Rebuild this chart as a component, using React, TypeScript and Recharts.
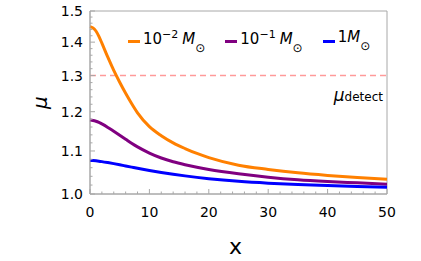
import React from 'react';
import { LineChart, Line, XAxis, YAxis, ReferenceLine, ReferenceArea } from 'recharts';

/* ---------- DATA ---------- */
const xValues = [0, 0.5, 1, 1.5, 2, 3, 4, 5, 6, 7, 8, 10, 12, 14, 16, 18, 20, 25, 30, 35, 40, 45, 50];
const muMinus2 = [1.449, 1.445, 1.435, 1.418, 1.397, 1.354, 1.315, 1.281, 1.25, 1.222, 1.197, 1.161, 1.138, 1.12, 1.106, 1.094, 1.084, 1.066, 1.056, 1.048, 1.042, 1.037, 1.033];
const muMinus1 = [1.178, 1.177, 1.175, 1.172, 1.168, 1.159, 1.149, 1.139, 1.129, 1.119, 1.11, 1.095, 1.083, 1.074, 1.067, 1.061, 1.056, 1.046, 1.038, 1.032, 1.028, 1.025, 1.022];
const muOne = [1.077, 1.0768, 1.0762, 1.0754, 1.0744, 1.0721, 1.0696, 1.0669, 1.0641, 1.0613, 1.0585, 1.0535, 1.049, 1.0448, 1.041, 1.0375, 1.0345, 1.0285, 1.0243, 1.0213, 1.019, 1.0168, 1.015];

const xTicks = [0, 2, 4, 6, 8, 10, 12, 14, 16, 18, 20, 22, 24, 26, 28, 30, 32, 34, 36, 38, 40, 42, 44, 46, 48, 50];
const xMajor = [0, 10, 20, 30, 40, 50];
const yTicks = [1.0, 1.02, 1.04, 1.06, 1.08, 1.1, 1.12, 1.14, 1.16, 1.18, 1.2, 1.22, 1.24, 1.26, 1.28, 1.3, 1.32, 1.34, 1.36, 1.38, 1.4, 1.42, 1.44, 1.46, 1.48, 1.5];
const yMajor = [1.0, 1.1, 1.2, 1.3, 1.4, 1.5];
const muDetect = 1.3;

const seriesKeys = ['m2', 'm1', 'm0'];
const seriesColors = ['#ff8000', '#800080', '#0000ff'];
const seriesMantissa = ['10', '10', '1'];
const seriesExponent = ['\u22122', '\u22121', ''];

const chartData = xValues.map((x, i) => ({
  x,
  m2: muMinus2[i],
  m1: muMinus1[i],
  m0: muOne[i],
}));

const FONT = '"DejaVu Sans", Verdana, sans-serif';
const FRAME = '#a8a8a8';

/* ---------- TICKS ---------- */
const XTick = (props: any) => {
  const { x, y, payload } = props;
  const major = xMajor.includes(payload.value);
  return (
    <g>
      <line x1={x} y1={y} x2={x} y2={y - (major ? 5 : 2.5)} stroke={FRAME} strokeWidth={1} />
      {major && (
        <text x={x} y={y + 23} textAnchor="middle" fontSize={14} fontFamily={FONT} fill="#000">
          {payload.value}
        </text>
      )}
    </g>
  );
};

const YTick = (props: any) => {
  const { x, y, payload } = props;
  const major = yMajor.some((m) => Math.abs(m - payload.value) < 1e-6);
  return (
    <g>
      <line x1={x} y1={y} x2={x + (major ? 5 : 2.5)} y2={y} stroke={FRAME} strokeWidth={1} />
      {major && (
        <text x={x - 7} y={y + 5} textAnchor="end" fontSize={14} fontFamily={FONT} fill="#000">
          {Number(payload.value).toFixed(1)}
        </text>
      )}
    </g>
  );
};

export default function App() {
  return (
    <div
      style={{
        position: 'absolute',
        left: 0,
        top: 0,
        width: 421,
        height: 261,
        background: '#fff',
        fontFamily: FONT,
      }}
    >
      <LineChart
        width={421}
        height={261}
        data={chartData}
        margin={{ top: 11, right: 34, left: 0, bottom: 0 }}
      >
        <ReferenceArea x1={0} x2={50} y1={1} y2={1.5} fill="none" stroke={FRAME} strokeWidth={1} />
        <XAxis
          dataKey="x"
          type="number"
          domain={[0, 50]}
          ticks={xTicks}
          interval={0}
          height={67}
          tickSize={0}
          tickMargin={0}
          tickLine={false}
          axisLine={{ stroke: FRAME }}
          tick={XTick}
          label={(p: any) => {
            const vb = p.viewBox || {};
            return (
              <text
                x={vb.x + vb.width / 2 - 3}
                y={vb.y + 60}
                textAnchor="middle"
                fontSize={22}
                fontFamily={FONT}
                fill="#000"
              >
                x
              </text>
            );
          }}
        />
        <YAxis
          scale="log"
          domain={[1, 1.5]}
          allowDataOverflow
          ticks={yTicks}
          interval={0}
          width={90}
          tickSize={0}
          tickMargin={0}
          tickLine={false}
          axisLine={{ stroke: FRAME }}
          tick={YTick}
          label={(p: any) => {
            const vb = p.viewBox || {};
            const cx = vb.x + 40;
            const cy = vb.y + vb.height / 2;
            return (
              <text
                x={cx}
                y={cy}
                transform={`rotate(-90, ${cx}, ${cy})`}
                textAnchor="middle"
                dominantBaseline="central"
                fontSize={20}
                fontStyle="italic"
                fontFamily={FONT}
                fill="#000"
              >
                μ
              </text>
            );
          }}
        />
        <ReferenceLine
          y={muDetect}
          stroke="#ff9a9a"
          strokeWidth={1.5}
          strokeDasharray="6 4"
          label={(p: any) => {
            const vb = p.viewBox || {};
            return (
              <text
                x={vb.x + vb.width - 4}
                y={vb.y + 25}
                textAnchor="end"
                fontFamily={FONT}
                fill="#000"
              >
                <tspan fontSize={17} fontStyle="italic">μ</tspan>
                <tspan fontSize={12}>detect</tspan>
              </text>
            );
          }}
        />
        {seriesKeys.map((k, i) => (
          <Line
            key={k}
            type="monotone"
            dataKey={k}
            stroke={seriesColors[i]}
            strokeWidth={3}
            dot={false}
            activeDot={false}
            isAnimationActive={false}
          />
        ))}
      </LineChart>

      {/* legend */}
      <div
        style={{
          position: 'absolute',
          left: 128,
          top: 26,
          display: 'flex',
          gap: 20,
          fontSize: 15,
          color: '#000',
          lineHeight: '18px',
        }}
      >
        {seriesKeys.map((k, i) => (
          <div key={k} style={{ display: 'flex', alignItems: 'center', whiteSpace: 'nowrap' }}>
            <span
              style={{
                display: 'inline-block',
                width: 12,
                height: 3,
                background: seriesColors[i],
                marginRight: 3,
              }}
            />
            <span>
              {seriesMantissa[i]}
              {seriesExponent[i] && (
                <sup style={{ fontSize: 11, verticalAlign: 6, marginRight: 4 }}>{seriesExponent[i]}</sup>
              )}
              <i>M</i>
              <sub style={{ fontSize: 12, verticalAlign: -8 }}>⊙</sub>
            </span>
          </div>
        ))}
      </div>
    </div>
  );
}
